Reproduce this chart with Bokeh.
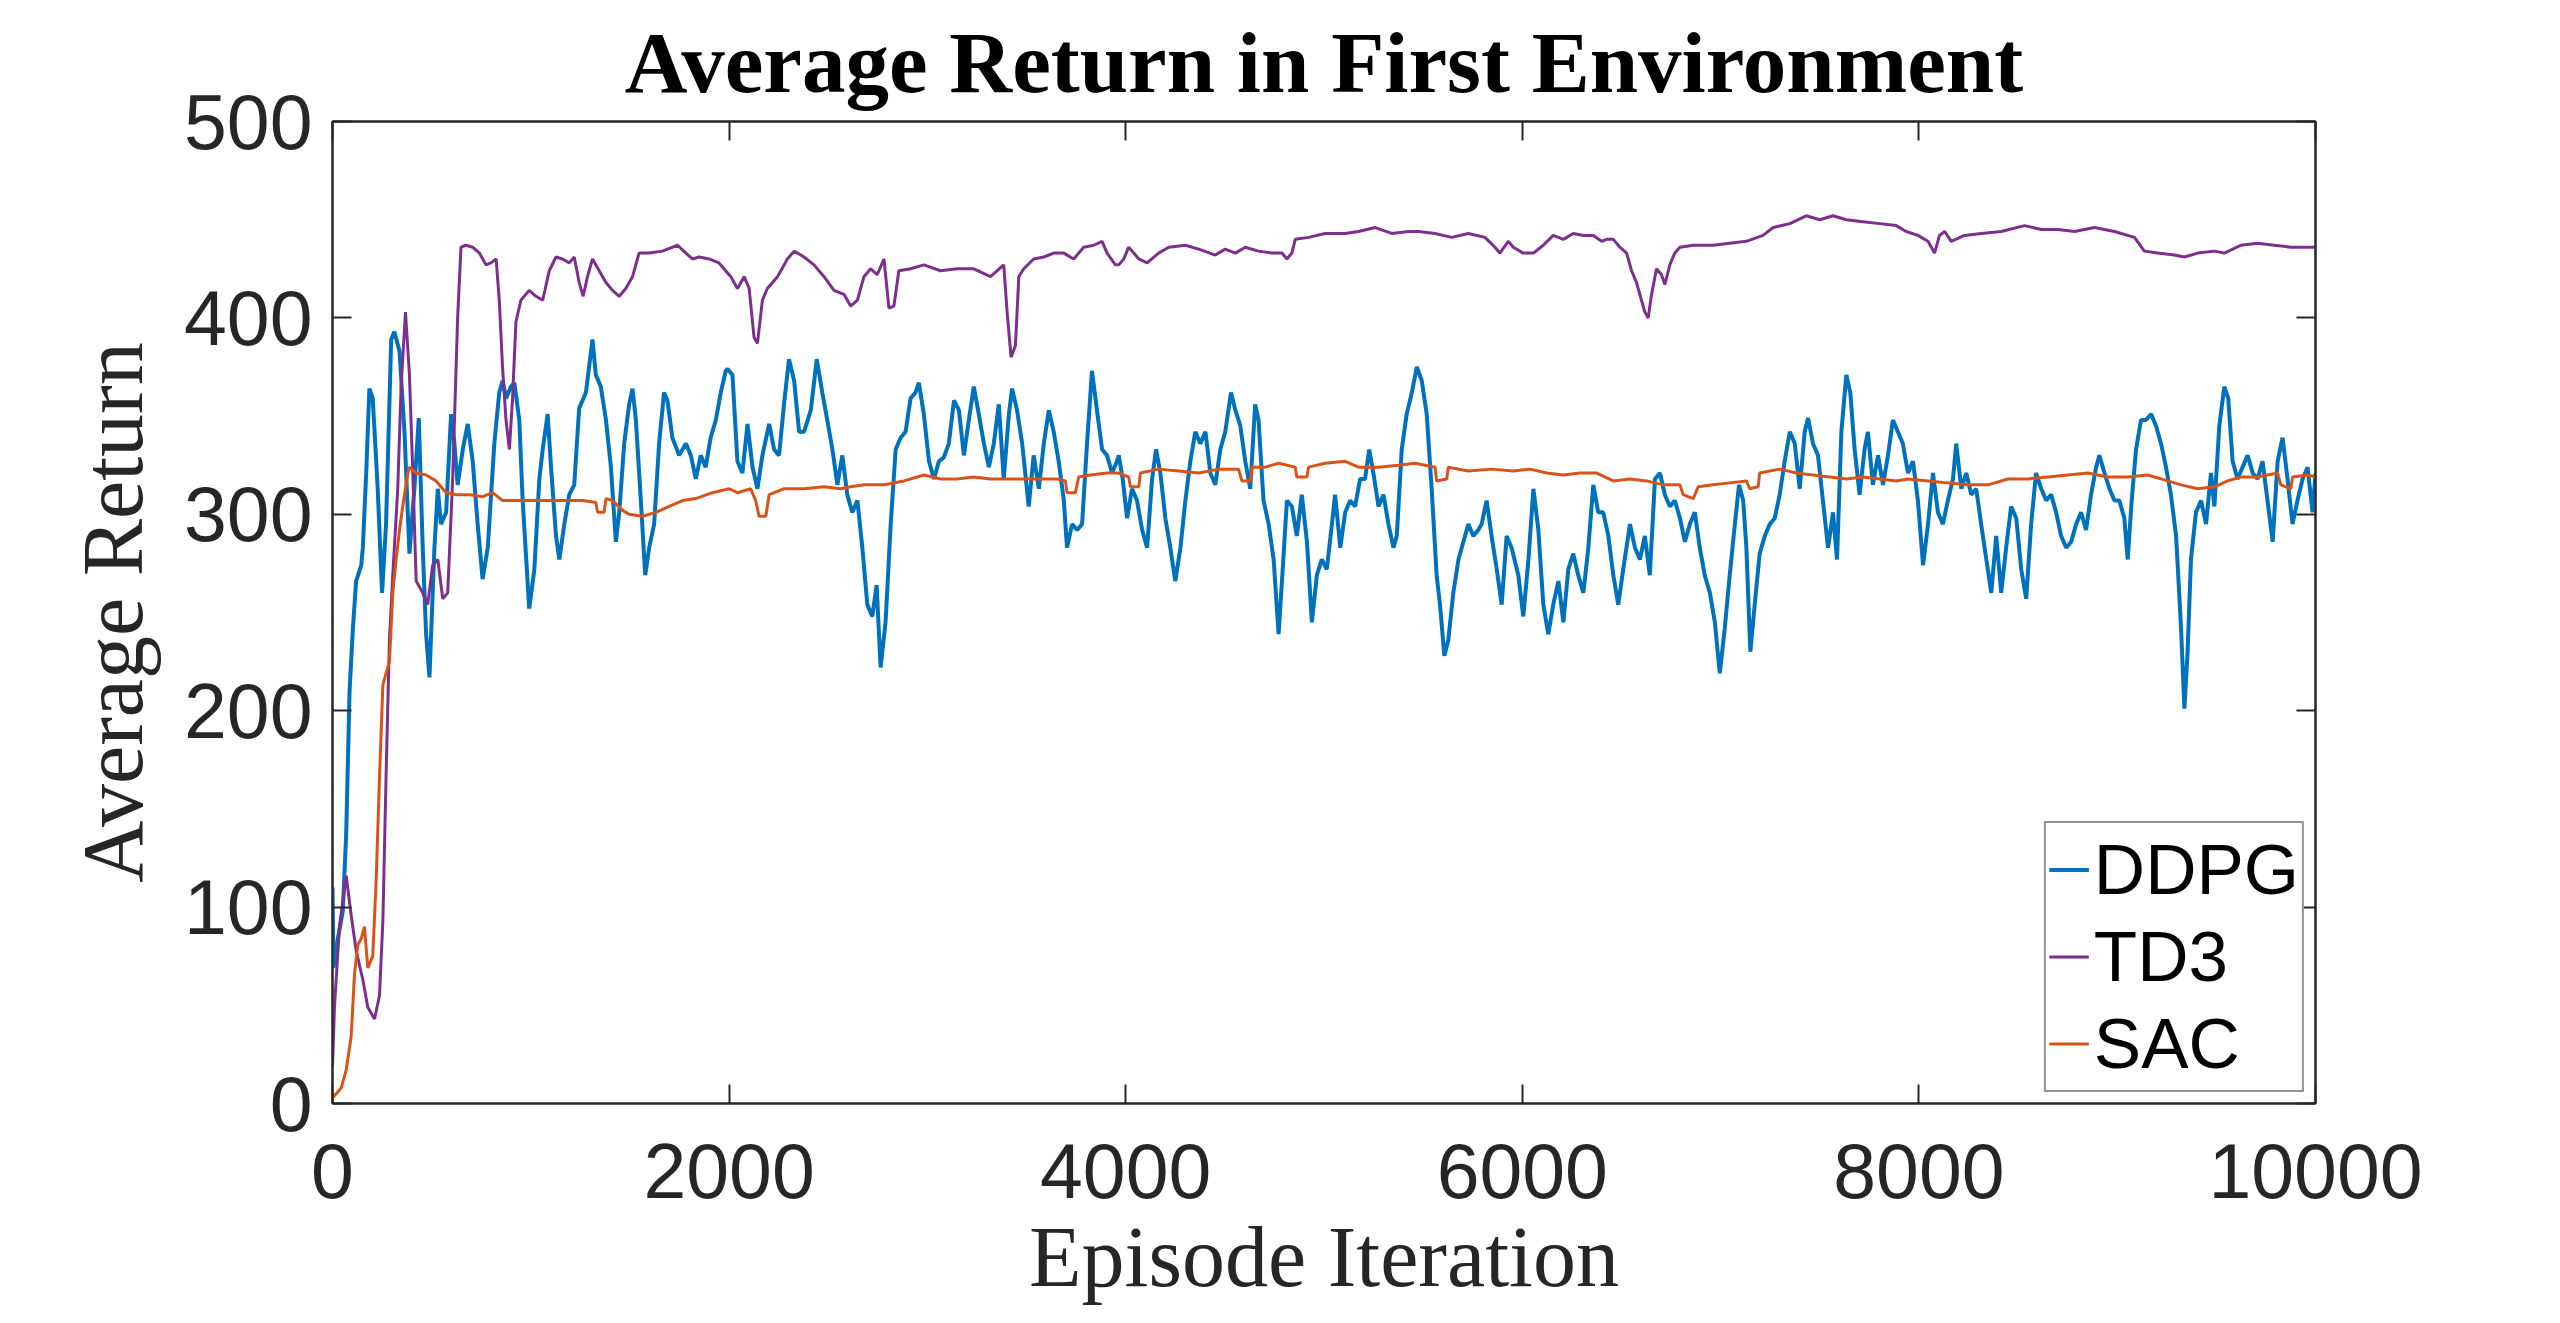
from bokeh.plotting import figure
from bokeh.models import Range1d, LinearAxis, FixedTicker, Legend, LegendItem, CustomJSTickFormatter
from bokeh.embed import file_html
from bokeh.resources import INLINE

# ---------------- data ----------------
x_ticks = [0, 2000, 4000, 6000, 8000, 10000]
y_ticks = [0, 100, 200, 300, 400, 500]
series_names = ["DDPG", "TD3", "SAC"]
series_colors = ["#0072BD", "#7E2F8E", "#D95319"]
x_label = "Episode Iteration"
y_label = "Average Return"
chart_title = "Average Return in First Environment"

ddpg_episode = [
    0, 5, 27, 52, 69, 86, 103, 119, 145, 153, 170, 186, 203, 228, 250, 270, 296, 312, 338, 363,
    388, 413, 435, 455, 472, 489, 514, 531, 547, 573, 598, 615, 631, 657, 682, 707, 732, 757, 783, 816,
    841, 858, 875, 900, 917, 942, 959, 992, 1018, 1043, 1060, 1085, 1102, 1127, 1144, 1169, 1194, 1219, 1244, 1278,
    1311, 1328, 1353, 1379, 1404, 1429, 1446, 1471, 1496, 1513, 1530, 1555, 1577, 1597, 1622, 1647, 1672, 1689, 1714, 1748,
    1782, 1807, 1832, 1857, 1882, 1907, 1933, 1958, 1983,
    1992, 2017, 2042, 2067, 2093, 2118, 2143, 2168, 2202, 2227, 2252, 2277, 2302, 2328, 2353, 2378, 2412, 2442, 2470, 2495,
    2521, 2546, 2571, 2596, 2621, 2647, 2672, 2697, 2722, 2744, 2764, 2789, 2815, 2840, 2865, 2890, 2915, 2940, 2957, 2982,
    3008, 3033, 3058, 3083, 3108, 3134, 3159, 3184, 3209, 3234, 3259, 3285, 3310, 3335, 3360, 3385, 3411, 3427, 3452, 3478,
    3511, 3536, 3562, 3587, 3612, 3637, 3662, 3688, 3704, 3730, 3755, 3780, 3805, 3830, 3855, 3881, 3906, 3931, 3956,
    3965, 3985, 4007, 4032, 4057, 4083, 4108, 4133, 4153, 4175, 4200, 4225, 4250, 4276, 4301, 4326, 4351, 4376, 4402, 4427,
    4452, 4477, 4502, 4531, 4553, 4578, 4603, 4628, 4653, 4670, 4695, 4721, 4746, 4771, 4788, 4813, 4838, 4863, 4888, 4914,
    4939, 4964, 4989, 5014, 5040, 5056, 5082, 5107, 5132, 5157, 5182, 5207, 5228, 5249, 5275, 5300, 5325, 5350, 5367, 5392,
    5417, 5443, 5468, 5493, 5518, 5543, 5568, 5585, 5607, 5627, 5652, 5678, 5703, 5728, 5753, 5778, 5795, 5820, 5845, 5871,
    5896, 5921, 5946,
    5980, 6005, 6031, 6056, 6081, 6106, 6131, 6156, 6182, 6207, 6232, 6257, 6282, 6308, 6333, 6358, 6383, 6408, 6434, 6459,
    6484, 6509, 6543, 6568, 6593, 6618, 6643, 6669, 6694, 6719, 6744, 6769, 6795, 6820, 6845, 6870, 6895, 6920, 6946, 6971,
    6996, 7021, 7046, 7072, 7093, 7114, 7130, 7150, 7172, 7197, 7223, 7248, 7273, 7298, 7323, 7349, 7374, 7399, 7424, 7441,
    7466, 7491, 7516, 7542, 7567, 7587, 7609, 7634, 7654, 7676, 7701, 7726, 7743, 7768, 7794, 7819, 7844, 7869, 7894, 7919,
    7945, 7970, 7995, 8021, 8046, 8071, 8096, 8121, 8146, 8172, 8188, 8214, 8239, 8264, 8289, 8314, 8340, 8365, 8390, 8415,
    8440, 8465, 8491, 8516, 8541, 8566, 8591, 8617, 8642, 8667, 8692, 8717, 8743, 8768, 8793, 8818, 8843, 8868, 8894, 8910,
    8936, 8961, 8986, 9011, 9036, 9053, 9073, 9095, 9120, 9145, 9171, 9196, 9221, 9246, 9271, 9297, 9322, 9339, 9355, 9372,
    9397, 9423, 9448, 9473, 9490, 9515, 9540, 9560, 9582, 9607, 9632, 9658, 9683, 9708, 9733, 9758, 9784, 9809, 9834, 9859,
    9884, 9909, 9935, 9960, 9985, 10000,
]
ddpg_return = [
    110, 69, 84, 98, 137, 210, 242, 266, 274, 283, 321, 364, 359, 313, 260, 295, 389, 393, 383, 342,
    280, 313, 349, 283, 239, 217, 283, 313, 295, 301, 351, 336, 315, 333, 346, 327, 295, 267, 283, 336,
    362, 368, 359, 365, 367, 348, 307, 252, 272, 318, 333, 351, 324, 289, 277, 295, 310, 315, 354, 362,
    389, 371, 365, 348, 324, 286, 301, 336, 356, 364, 348, 307, 269, 283, 295, 336, 362, 358, 339, 330,
    336, 330, 318, 330, 324, 339, 348, 362, 373,
    374, 371, 327, 321, 346, 324, 313, 330, 346, 333, 330, 356, 379, 368, 342, 342, 353, 379, 362, 348,
    333, 315, 330, 310, 301, 307, 283, 254, 248, 264, 222, 245, 295, 333, 339, 342, 359, 362, 367, 351,
    327, 318, 327, 329, 336, 358, 353, 330, 348, 365, 351, 336, 324, 336, 356, 318, 351, 364, 353, 336,
    304, 330, 313, 336, 353, 342, 327, 307, 283, 295, 292, 295, 336, 373, 353, 333, 330, 321, 327,
    330, 318, 298, 313, 307, 292, 283, 318, 333, 321, 298, 283, 266, 283, 307, 327, 342, 336, 342, 321,
    315, 333, 342, 362, 353, 345, 327, 313, 356, 348, 307, 295, 277, 239, 266, 307, 304, 289, 310, 286,
    245, 269, 277, 272, 295, 310, 283, 301, 307, 304, 318, 318, 333, 321, 304, 310, 295, 283, 289, 333,
    351, 362, 375, 368, 351, 313, 269, 254, 228, 236, 260, 277, 286, 295, 289, 292, 295, 307, 289, 272,
    254, 289, 283,
    269, 248, 277, 313, 292, 254, 239, 254, 266, 245, 272, 280, 269, 260, 283, 315, 301, 301, 289, 269,
    254, 272, 295, 283, 277, 289, 269, 318, 321, 310, 304, 307, 298, 286, 295, 301, 283, 269, 260, 245,
    219, 242, 269, 295, 315, 307, 283, 230, 254, 280, 289, 295, 298, 310, 327, 342, 336, 313, 342, 349,
    336, 330, 307, 283, 301, 277, 342, 371, 362, 333, 310, 333, 342, 315, 330, 315, 330, 348, 342, 336,
    321, 327, 307, 274, 295, 321, 301, 295, 307, 318, 336, 313, 321, 310, 313, 295, 277, 260, 289, 260,
    283, 304, 298, 272, 257, 295, 321, 313, 307, 310, 301, 289, 283, 286, 295, 301, 292, 310, 324, 330,
    321, 313, 307, 307, 298, 277, 307, 333, 348, 348, 351, 345, 336, 324, 310, 289, 242, 201, 230, 277,
    301, 307, 295, 321, 304, 345, 365, 359, 327, 318, 324, 330, 321, 318, 327, 307, 286, 327, 339, 318,
    295, 307, 318, 324, 301, 321,
]

td3_episode = [
    0, 10, 35, 69, 94, 119, 153, 178, 212, 237, 254, 270, 287, 304, 329, 346, 368, 388, 405, 422,
    455, 480, 505, 531, 556, 581, 606, 631, 648, 673, 707, 741, 774, 799, 825, 841, 858, 875, 892, 908,
    925, 950, 992, 1026, 1060, 1093, 1127, 1160, 1194, 1219, 1244, 1264, 1286, 1311, 1345, 1379, 1412, 1446, 1479, 1513,
    1546, 1597, 1664, 1740, 1782, 1815, 1849, 1899, 1949,
    2009, 2042, 2076, 2101, 2126, 2143, 2168, 2193, 2244, 2294, 2328, 2378, 2428, 2479, 2529, 2579, 2613, 2647, 2680, 2714,
    2747, 2781, 2806, 2831, 2856, 2915, 2982, 3066, 3150, 3234, 3318, 3385, 3402, 3422, 3444, 3461, 3486, 3536, 3587, 3637,
    3688, 3738, 3788, 3839, 3881, 3906, 3948,
    3965, 3990, 4015, 4041, 4066, 4108, 4166, 4217, 4301, 4368, 4452, 4502, 4553, 4603, 4670, 4737, 4788, 4813, 4838, 4855,
    4922, 5006, 5107, 5174, 5258, 5342, 5426, 5476, 5560, 5644, 5728, 5812, 5862, 5887, 5929,
    5955, 6005, 6056, 6106, 6156, 6207, 6257, 6308, 6358, 6400, 6425, 6459, 6492, 6526, 6551, 6576, 6601, 6618, 6635, 6652,
    6677, 6702, 6719, 6744, 6769, 6795, 6862, 6962, 7046, 7130, 7214, 7265, 7349, 7432, 7500, 7567, 7634, 7718, 7802, 7886,
    7936,
    7995, 8046, 8079, 8104, 8130, 8163, 8230, 8314, 8415, 8533, 8617, 8701, 8785, 8885, 8986, 9087, 9137, 9204, 9288, 9339,
    9406, 9490, 9540, 9624, 9708, 9792, 9876, 9960, 10000,
]
td3_return = [
    19, 49, 90, 116, 96, 78, 63, 49, 43, 55, 93, 166, 236, 269, 313, 365, 403, 371, 321, 266,
    260, 254, 274, 277, 257, 260, 318, 400, 436, 437, 436, 433, 427, 428, 430, 409, 374, 348, 333, 359,
    398, 409, 414, 411, 409, 424, 431, 430, 428, 431, 418, 411, 421, 430, 424, 418, 414, 411, 415, 421,
    433, 433, 434, 437, 433, 430, 431, 430, 428,
    421, 415, 421, 415, 390, 387, 409, 415, 421, 430, 434, 431, 427, 421, 414, 412, 406, 409, 421, 425,
    422, 430, 405, 406, 424, 425, 427, 424, 425, 425, 421, 427, 403, 380, 386, 421, 425, 430, 431, 433,
    433, 430, 436, 437, 439, 433, 427,
    427, 430, 436, 433, 430, 428, 433, 436, 437, 435, 432, 435, 433, 436, 434, 433, 433, 430, 433, 440,
    441, 443, 443, 444, 446, 443, 444, 444, 443, 441, 443, 441, 436, 433, 439,
    436, 433, 433, 437, 442, 440, 443, 442, 442, 439, 440, 440, 436, 433, 424, 418, 409, 403, 400, 412,
    425, 422, 417, 427, 433, 436, 437, 437, 438, 439, 442, 446, 448, 452, 450, 452, 450, 449, 448, 447,
    444,
    442, 439, 433, 442, 444, 439, 442, 443, 444, 447, 445, 445, 444, 446, 444, 441, 434, 433, 432, 431,
    433, 434, 433, 437, 438, 437, 436, 436, 436,
]

sac_episode = [
    0, 19, 44, 69, 94, 111, 128, 145, 161, 178, 203, 220, 237, 254, 270, 287, 304, 321, 338, 354,
    380, 388, 422, 472, 522, 573, 623, 690, 757, 808, 858, 959, 1060, 1160, 1261, 1328, 1337, 1370, 1379, 1412,
    1463, 1496, 1563, 1630, 1698, 1765, 1832, 1916, 2000,
    2042, 2109, 2134, 2151, 2185, 2202, 2277, 2378, 2479, 2563, 2613, 2680, 2781, 2882, 2982, 3066, 3150, 3234, 3318, 3402,
    3486, 3570, 3654, 3696, 3704, 3746, 3763, 3822, 3906,
    3965, 4015, 4024, 4066, 4074, 4166, 4267, 4368, 4469, 4569, 4586, 4628, 4637, 4704, 4771, 4855, 4863, 4914, 4922, 5006,
    5107, 5174, 5275, 5375, 5459, 5560, 5568, 5619, 5627, 5728, 5845,
    5955, 6039, 6123, 6207, 6291, 6375, 6459, 6543, 6627, 6711, 6795, 6811, 6862, 6887, 6962, 7046, 7130, 7147, 7189, 7197,
    7298, 7382, 7466, 7550, 7634, 7718, 7802, 7886,
    7945, 8046, 8146, 8247, 8348, 8449, 8549, 8650, 8751, 8852, 8952, 9053, 9154, 9255, 9322, 9406, 9490, 9557, 9624, 9708,
    9809, 9825, 9876, 9884, 9960, 10000,
]
sac_return = [
    3, 5, 8, 17, 34, 66, 81, 84, 90, 69, 75, 113, 166, 213, 219, 225, 260, 277, 292, 304,
    321, 324, 321, 320, 317, 311, 310, 310, 309, 311, 307, 307, 307, 307, 307, 306, 301, 301, 308, 307,
    302, 300, 299, 301, 304, 307, 308, 311, 313,
    311, 313, 307, 299, 299, 310, 313, 313, 314, 313, 314, 315, 315, 317, 320, 318, 318, 319, 318, 318,
    318, 318, 318, 317, 311, 311, 319, 320, 321,
    321, 319, 314, 314, 321, 323, 322, 321, 323, 323, 317, 317, 324, 324, 326, 324, 319, 319, 324, 326,
    327, 324, 324, 325, 326, 324, 317, 318, 324, 322, 323,
    322, 323, 321, 320, 321, 321, 317, 318, 317, 315, 315, 310, 308, 314, 315, 316, 317, 313, 314, 321,
    323, 321, 320, 319, 318, 319, 318, 317,
    318, 317, 316, 315, 315, 318, 318, 319, 320, 321, 319, 319, 320, 317, 315, 313, 314, 317, 319, 319,
    321, 315, 313, 319, 320, 319,
]

# ---------------- figure ----------------
AX = "#262626"
p = figure(width=2544, height=1307, output_backend="svg", toolbar_location=None,
           x_range=Range1d(0, 10000), y_range=Range1d(0, 500),
           min_border_left=332, min_border_right=229, min_border_top=115, min_border_bottom=202,
           title=chart_title, background_fill_color="white",
           border_fill_color="white")

p.title.align = "center"
p.title.text_font = "Liberation Serif"
p.title.text_font_style = "bold"
p.title.text_font_size = "87px"
p.title.text_color = "black"
p.title.standoff = 22

p.xgrid.visible = False
p.ygrid.visible = False
p.outline_line_color = AX
p.outline_line_width = 2

def style_axis(ax, ticks, show_labels):
    ax.ticker = FixedTicker(ticks=ticks)
    ax.major_tick_in = 19
    ax.major_tick_out = 0
    ax.minor_tick_line_color = None
    ax.major_tick_line_color = AX
    ax.major_tick_line_width = 2
    ax.axis_line_color = AX
    ax.axis_line_width = 2
    ax.major_label_text_font = "Liberation Sans"
    ax.major_label_text_font_size = "77px"
    ax.major_label_text_color = AX
    ax.axis_label_text_color = AX
    ax.axis_label_text_font = "Liberation Serif"
    ax.axis_label_text_font_style = "normal"
    ax.axis_label_text_font_size = "86px"
    if not show_labels:
        ax.formatter = CustomJSTickFormatter(code="return ''")
        ax.major_label_standoff = 0

style_axis(p.xaxis[0], x_ticks, True)
style_axis(p.yaxis[0], y_ticks, True)
p.xaxis[0].axis_label = x_label
p.yaxis[0].axis_label = y_label
p.xaxis[0].major_label_standoff = 40
p.xaxis[0].axis_label_standoff = 8
p.yaxis[0].major_label_standoff = 20
p.yaxis[0].axis_label_standoff = 20

top_axis = LinearAxis()
style_axis(top_axis, x_ticks, False)
p.add_layout(top_axis, "above")
right_axis = LinearAxis()
style_axis(right_axis, y_ticks, False)
p.add_layout(right_axis, "right")

items = []
for name, color, xs, ys, lw in zip(series_names, series_colors,
                                   [ddpg_episode, td3_episode, sac_episode],
                                   [ddpg_return, td3_return, sac_return],
                                   [4, 3, 3]):
    r = p.line(xs, ys, line_color=color, line_width=lw)
    items.append(LegendItem(label=name, renderers=[r]))

legend = Legend(items=items, location="bottom_right")
legend.margin = 11
legend.padding = 3
legend.spacing = 0
legend.glyph_width = 40
legend.glyph_height = 87
legend.label_height = 87
legend.label_standoff = 5
legend.label_text_font = "Liberation Sans"
legend.label_text_font_size = "71px"
legend.label_text_color = "black"
legend.border_line_color = AX
legend.border_line_width = 2
legend.background_fill_color = "white"
legend.background_fill_alpha = 1
p.add_layout(legend)

open("out.html", "w").write(file_html(p, INLINE))
